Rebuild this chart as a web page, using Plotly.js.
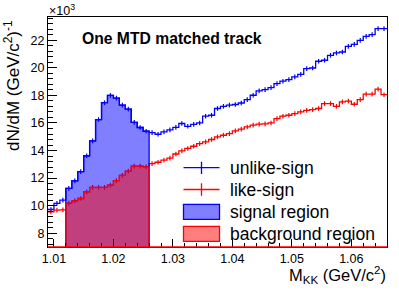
<!DOCTYPE html>
<html><head><meta charset="utf-8">
<script src="https://cdn.plot.ly/plotly-3.0.1.min.js"></script>
<style>html,body{margin:0;padding:0;background:#fff}#c{width:399px;height:291px}</style>
</head><body><div id="c"></div>
<script>
// bins: 1 MeV wide, from 1.009 to 1.066 GeV/c^2 ; values in units of 10^3
const massLo = 1.009;
const binW = 0.001;
const unlikeSign = [9.72,10.16,10.4,11.25,11.8,12.47,13.62,14.7,16.25,17.47,18.0,17.8,17.29,17.0,16.05,15.67,15.4,
  15.3,15.18,15.35,15.5,15.68,15.96,15.76,15.9,16.0,16.49,16.56,17.05,17.21,17.29,17.34,17.45,17.7,18.01,18.33,18.42,
  18.57,18.86,19.03,19.15,19.34,19.53,19.95,19.99,20.48,20.55,20.91,21.08,21.15,21.56,21.71,22.0,22.29,22.41,22.85,22.85];
const likeSign = [9.55,9.68,9.7,10.18,10.35,10.52,11.0,11.32,11.32,11.32,11.49,11.82,12.2,12.5,12.87,12.87,12.81,
  13.05,13.15,13.3,13.45,13.75,13.97,14.15,14.31,14.5,14.63,14.8,14.99,15.11,15.23,15.42,15.55,15.71,15.84,15.91,15.93,
  16.0,16.32,16.49,16.56,16.68,16.8,16.92,16.97,17.05,17.41,17.41,17.21,17.53,17.58,17.36,17.7,18.1,18.1,18.45,18.05];
const statErr = 0.17;
const signalLo = 1.012, signalHi = 1.026;
const xTickVals = [1.01,1.02,1.03,1.04,1.05,1.06];
const xTickText = ['1.01','1.02','1.03','1.04','1.05','1.06'];
const yTickVals = [8,10,12,14,16,18,20,22];
const yTickText = ['8','10','12','14','16','18','20','22'];
const legendLabels = ['unlike-sign','like-sign','signal region','background region'];
const titleText = 'One MTD matched track';

const nb = unlikeSign.length;
const edges = [];
for (let i = 0; i <= nb; i++) edges.push(+(massLo + i*binW).toFixed(4));
const centers = edges.slice(0, nb).map(e => +(e + binW/2).toFixed(5));
const iLo = Math.round((signalLo - massLo)/binW), iHi = Math.round((signalHi - massLo)/binW);

function step(vals){ return {x: edges.slice(), y: vals.concat([vals[vals.length-1]])}; }
function region(vals){
  const x=[edges[iLo]], y=[0];
  for (let i=iLo;i<iHi;i++){ x.push(edges[i]); y.push(vals[i]); }
  x.push(edges[iHi]); y.push(vals[iHi-1]);
  x.push(edges[iHi]); y.push(0);
  return {x, y};
}
const BLUE='#0000ff', RED='#ff0000';
const sU=step(unlikeSign), sL=step(likeSign), rU=region(unlikeSign), rL=region(likeSign);
const traces = [
  {x:sU.x,y:sU.y,mode:'lines',line:{shape:'hv',color:BLUE,width:1.3}},
  {x:centers,y:unlikeSign,mode:'markers',marker:{size:2,opacity:0,color:BLUE},error_y:{type:'constant',value:statErr,color:BLUE,thickness:1.2,width:0}},
  {x:sL.x,y:sL.y,mode:'lines',line:{shape:'hv',color:RED,width:1.3}},
  {x:centers,y:likeSign,mode:'markers',marker:{size:2,opacity:0,color:RED},error_y:{type:'constant',value:statErr,color:RED,thickness:1.2,width:0}},
  {x:rU.x,y:rU.y,mode:'lines',fill:'toself',fillcolor:'rgba(0,0,255,0.5)',line:{shape:'hv',color:BLUE,width:1.3}},
  {x:rL.x,y:rL.y,mode:'lines',fill:'toself',fillcolor:'rgba(255,0,0,0.5)',line:{shape:'hv',color:RED,width:1.3}}
];

const L=48, W=339, T=17, H=230;
const px = v => (v - L)/W, py = v => (T + H - v)/H;
const font = 'Liberation Sans, Arial, Helvetica, sans-serif';
const shapes = [
  {type:'line',xref:'paper',yref:'paper',x0:0,x1:1,y0:0,y1:0,line:{color:RED,width:1.5},layer:'above'},
  // legend symbols
  {type:'line',xref:'paper',yref:'paper',x0:px(183.5),x1:px(219.5),y0:py(167.7),y1:py(167.7),line:{color:BLUE,width:1.3}},
  {type:'line',xref:'paper',yref:'paper',x0:px(201.5),x1:px(201.5),y0:py(161.7),y1:py(174),line:{color:BLUE,width:1.3}},
  {type:'line',xref:'paper',yref:'paper',x0:px(183.5),x1:px(219.5),y0:py(189.5),y1:py(189.5),line:{color:RED,width:1.3}},
  {type:'line',xref:'paper',yref:'paper',x0:px(201.5),x1:px(201.5),y0:py(183.3),y1:py(195.8),line:{color:RED,width:1.3}},
  {type:'rect',xref:'paper',yref:'paper',x0:px(183.5),x1:px(219.5),y0:py(204.3),y1:py(219.3),fillcolor:'rgba(0,0,255,0.5)',line:{color:BLUE,width:1.3}},
  {type:'rect',xref:'paper',yref:'paper',x0:px(183.5),x1:px(219.5),y0:py(226.3),y1:py(241.3),fillcolor:'rgba(255,0,0,0.5)',line:{color:RED,width:1.3}}
];
const legY=[167.7,189.5,211.8,233.8];
const annotations = legendLabels.map((t,i)=>({text:t,xref:'paper',yref:'paper',x:px(227.5),y:py(legY[i]),xanchor:'left',yanchor:'middle',showarrow:false,font:{family:font,size:17.5,color:'#000'}}));
annotations.push(
  {text:'<b>'+titleText+'</b>',xref:'paper',yref:'paper',x:px(80),y:py(38.5),xanchor:'left',yanchor:'middle',showarrow:false,font:{family:font,size:15.7,color:'#000'}},
  {text:'×10<sup>3</sup>',xref:'paper',yref:'paper',x:px(46.5),y:py(10),xanchor:'left',yanchor:'middle',showarrow:false,font:{family:font,size:12.5,color:'#000'}},
  {text:'dN/dM (GeV/c<sup>2</sup>)<sup>-1</sup>',xref:'paper',yref:'paper',x:px(12.5),y:py(85.5),xanchor:'center',yanchor:'middle',textangle:-90,showarrow:false,font:{family:font,size:17,color:'#000'}},
  {text:'M<sub>KK</sub> (GeV/c<sup>2</sup>)',xref:'paper',yref:'paper',x:px(388),y:py(275),xanchor:'right',yanchor:'middle',showarrow:false,font:{family:font,size:16.5,color:'#000'}}
);
const layout = {
  width:399,height:291,margin:{l:L,r:399-L-W,t:T,b:291-T-H},
  paper_bgcolor:'#fff',plot_bgcolor:'#fff',showlegend:false,
  xaxis:{range:[massLo, massLo+nb*binW],tickmode:'array',tickvals:xTickVals,ticktext:xTickText,ticks:'inside',ticklen:8,tickcolor:'#000',tickwidth:1,
    minor:{dtick:0.002,tick0:1.0,ticks:'inside',ticklen:4,tickcolor:'#000'},
    showline:true,linecolor:'#000',linewidth:1,mirror:true,showgrid:false,zeroline:false,
    tickfont:{family:font,size:12.5,color:'#000'}},
  yaxis:{range:[7,23.69],tickmode:'array',tickvals:yTickVals,ticktext:yTickText,ticks:'inside',ticklen:9,tickcolor:'#000',tickwidth:1,
    minor:{dtick:0.4,tick0:0,ticks:'inside',ticklen:5,tickcolor:'#000'},
    showline:true,linecolor:'#000',linewidth:1,mirror:true,showgrid:false,zeroline:false,
    tickfont:{family:font,size:12.5,color:'#000'}},
  shapes, annotations
};
Plotly.newPlot('c', traces, layout, {staticPlot:true,displayModeBar:false});
</script></body></html>
